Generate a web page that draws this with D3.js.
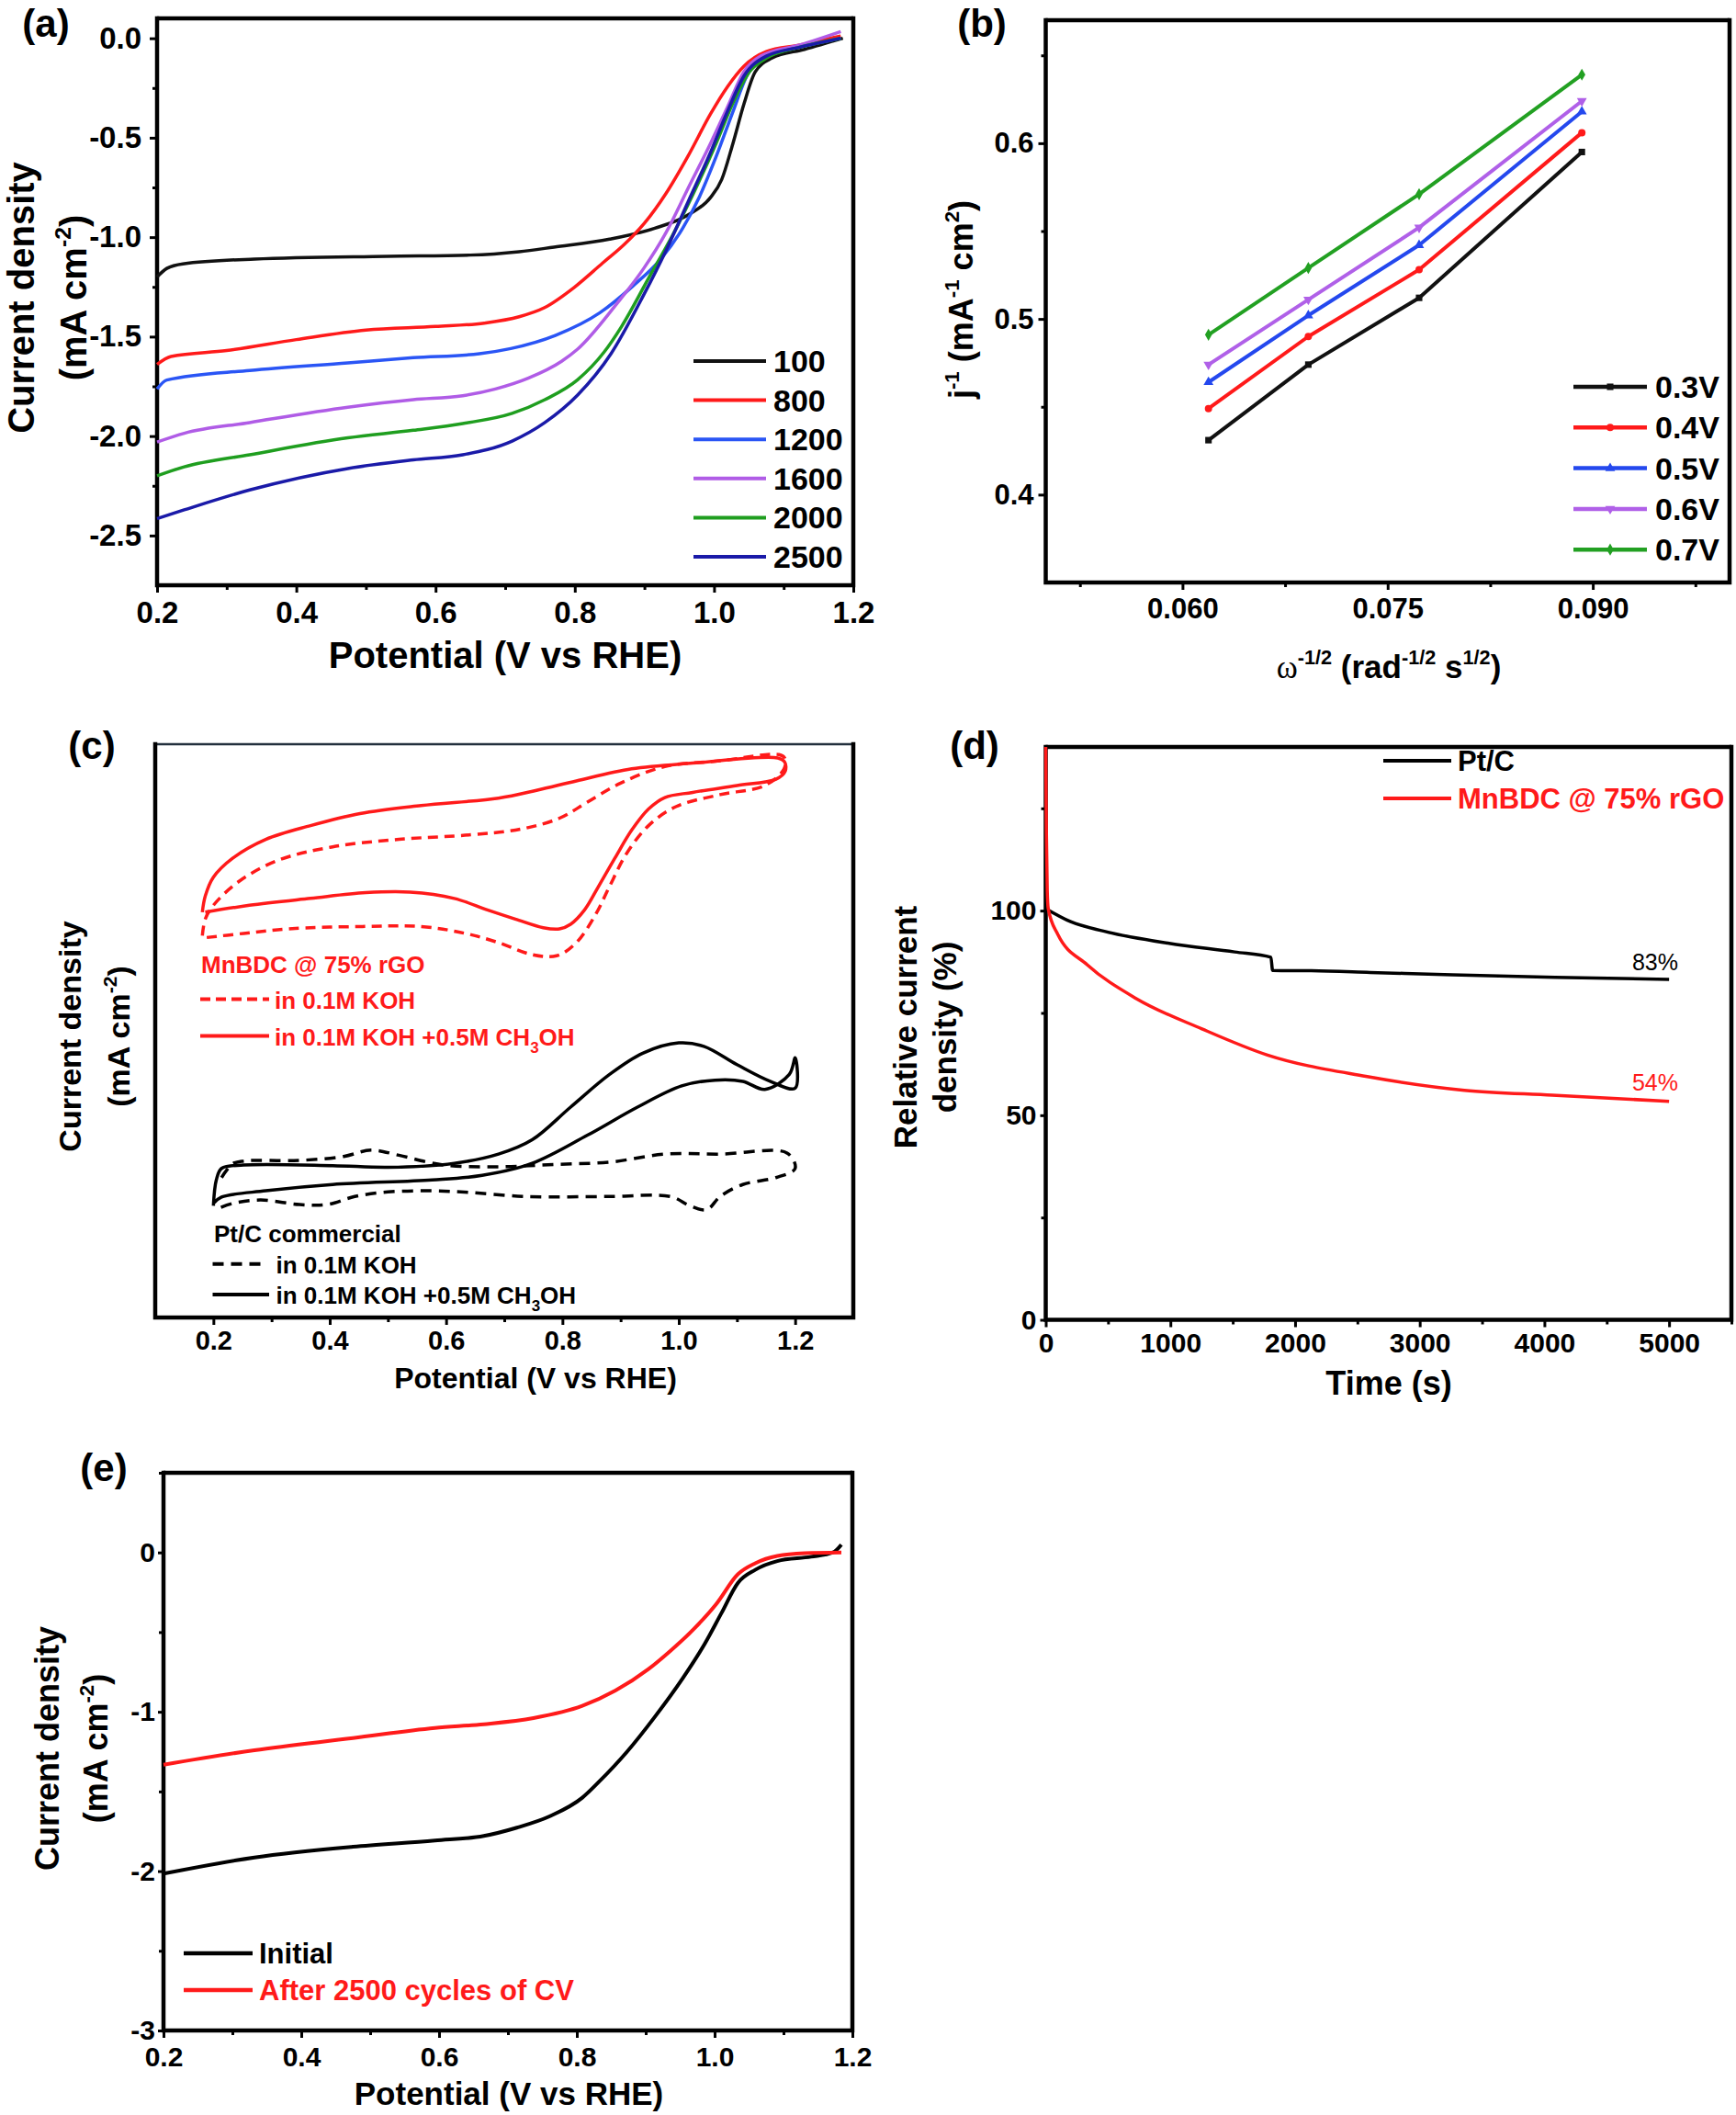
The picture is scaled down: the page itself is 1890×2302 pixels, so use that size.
<!DOCTYPE html>
<html>
<head>
<meta charset="utf-8">
<script src="https://cdn.jsdelivr.net/npm/d3@7"></script>
<style>
  body { margin: 0; background: #fff; }
  text { font-family: "Liberation Sans", Arial, sans-serif; font-weight: bold; fill: #000; }
</style>
</head>
<body>
<script>
// ---- (a) LSV at different rotation rates (rpm): [V vs RHE, mA cm-2]
const rpmLabels = ["100", "800", "1200", "1600", "2000", "2500"];
const lsv100 = [[0.2,-1.2],[0.214,-1.157],[0.237,-1.134],[0.34,-1.11],[0.53,-1.096],[0.65,-1.09],[0.72,-1.073],[0.77,-1.05],[0.85,-1.01],[0.915,-0.955],[0.963,-0.887],[0.995,-0.80],[1.011,-0.71],[1.027,-0.53],[1.043,-0.33],[1.059,-0.17],[1.083,-0.10],[1.13,-0.056],[1.185,0.0]];
const lsv800 = [[0.2,-1.64],[0.22,-1.60],[0.3,-1.57],[0.4,-1.515],[0.5,-1.467],[0.6,-1.449],[0.67,-1.432],[0.72,-1.40],[0.756,-1.355],[0.8,-1.25],[0.84,-1.13],[0.87,-1.04],[0.9,-0.93],[0.931,-0.78],[0.963,-0.59],[0.995,-0.38],[1.019,-0.245],[1.043,-0.14],[1.075,-0.067],[1.123,-0.034],[1.182,0.011]];
const lsv1200 = [[0.2,-1.763],[0.214,-1.718],[0.333,-1.67],[0.474,-1.632],[0.568,-1.606],[0.663,-1.586],[0.708,-1.56],[0.772,-1.494],[0.836,-1.38],[0.883,-1.247],[0.923,-1.112],[0.955,-0.955],[0.979,-0.797],[1.003,-0.595],[1.027,-0.37],[1.047,-0.19],[1.075,-0.09],[1.123,-0.045],[1.182,0.0]];
const lsv1600 = [[0.2,-2.03],[0.239,-1.986],[0.333,-1.932],[0.474,-1.855],[0.568,-1.817],[0.639,-1.797],[0.686,-1.763],[0.733,-1.709],[0.781,-1.624],[0.804,-1.563],[0.86,-1.336],[0.899,-1.157],[0.931,-0.977],[0.963,-0.752],[0.995,-0.528],[1.019,-0.348],[1.043,-0.168],[1.067,-0.09],[1.123,-0.034],[1.182,0.034]];
const lsv2000 = [[0.2,-2.20],[0.239,-2.155],[0.333,-2.094],[0.474,-2.009],[0.568,-1.971],[0.639,-1.937],[0.71,-1.886],[0.757,-1.817],[0.804,-1.717],[0.842,-1.578],[0.867,-1.45],[0.907,-1.20],[0.939,-1.0],[0.971,-0.775],[1.003,-0.528],[1.027,-0.326],[1.051,-0.168],[1.075,-0.10],[1.123,-0.045],[1.182,0.0]];
const lsv2500 = [[0.2,-2.415],[0.239,-2.371],[0.333,-2.271],[0.474,-2.163],[0.568,-2.12],[0.639,-2.094],[0.71,-2.025],[0.757,-1.932],[0.804,-1.794],[0.852,-1.586],[0.899,-1.29],[0.931,-1.067],[0.963,-0.82],[0.995,-0.573],[1.019,-0.37],[1.043,-0.19],[1.075,-0.09],[1.123,-0.045],[1.182,0.0]];
const rpmColors = ["#111111", "#ff1a1a", "#2a55f5", "#b05ce6", "#1f9e1f", "#1a1aa8"];

// ---- (b) Koutecky-Levich plots
const klLabels = ["0.3V", "0.4V", "0.5V", "0.6V", "0.7V"];
const invSqrtOmega = [0.0619, 0.0692, 0.0773, 0.0892];
const kl03 = [0.431, 0.474, 0.512, 0.595];
const kl04 = [0.449, 0.490, 0.528, 0.606];
const kl05 = [0.464, 0.502, 0.542, 0.618];
const kl06 = [0.474, 0.511, 0.552, 0.624];
const kl07 = [0.491, 0.529, 0.571, 0.639];
const klColors = ["#111111", "#ff1a1a", "#2448ee", "#b060e8", "#22a022"];

// ---- (c) methanol tolerance CVs (current in arbitrary units, 0 = bottom, 100 = top)
const mnbdcKOH = [[0.181,66.6],[0.186,69.5],[0.2,71.9],[0.243,76.0],[0.31,79.7],[0.405,82.1],[0.519,83.4],[0.643,84.2],[0.729,85.2],[0.795,87.1],[0.843,89.9],[0.9,93.2],[0.976,96.1],[1.071,97.1],[1.172,98.2],[1.182,97.6],[1.181,95.7],[1.148,92.8],[1.071,91.2],[0.995,89.1],[0.948,85.8],[0.91,80.9],[0.881,75.2],[0.857,70.3],[0.824,65.4],[0.79,63.1],[0.748,63.3],[0.69,65.4],[0.633,67.0],[0.557,68.2],[0.452,68.2],[0.329,67.8],[0.252,67.0],[0.181,66.2]];
const mnbdcMeOH = [[0.181,70.7],[0.186,73.5],[0.2,76.8],[0.233,80.1],[0.29,83.4],[0.367,85.8],[0.452,87.9],[0.557,89.3],[0.69,90.6],[0.757,92.0],[0.824,93.6],[0.919,95.7],[1.024,96.7],[1.17,97.6],[1.182,96.9],[1.183,95.3],[1.167,93.9],[1.1,92.8],[1.024,91.6],[0.976,90.7],[0.948,88.7],[0.919,85.0],[0.89,80.1],[0.862,75.2],[0.838,71.1],[0.814,68.6],[0.795,67.8],[0.767,68.0],[0.719,69.5],[0.671,71.1],[0.614,73.1],[0.538,74.2],[0.462,74.1],[0.367,73.1],[0.262,71.9],[0.186,70.7]];
const ptcKOH = [[0.214,24.4],[0.233,26.8],[0.252,27.3],[0.348,27.4],[0.424,28.1],[0.471,29.2],[0.519,28.3],[0.595,26.6],[0.69,26.3],[0.786,26.7],[0.881,27.1],[0.976,28.5],[1.071,28.5],[1.186,28.7],[1.2,26.0],[1.167,24.4],[1.11,23.2],[1.071,21.1],[1.048,18.8],[1.019,19.5],[0.986,21.1],[0.881,21.1],[0.738,21.1],[0.643,21.8],[0.576,22.1],[0.5,21.9],[0.443,21.1],[0.395,19.7],[0.348,19.7],[0.281,20.5],[0.233,19.9],[0.21,19.1]];
const ptcMeOH = [[0.2,19.5],[0.205,24.0],[0.214,26.0],[0.252,26.6],[0.405,26.5],[0.5,26.2],[0.614,26.9],[0.69,28.5],[0.748,31.0],[0.814,36.7],[0.881,42.4],[0.938,46.1],[1.0,47.9],[1.043,47.3],[1.1,44.1],[1.157,41.2],[1.2,40.0],[1.2,45.3],[1.19,42.4],[1.148,39.8],[1.11,41.2],[1.062,41.4],[1.005,40.4],[0.929,36.7],[0.843,31.8],[0.748,26.9],[0.662,24.8],[0.576,24.0],[0.405,23.2],[0.29,22.1],[0.214,21.0],[0.2,19.9]];

// ---- (d) chronoamperometry: [time s, relative current %]
const ptcStability = [[0,100.5],[200,97.3],[463,95.0],[990,92.0],[1516,89.9],[1806,88.6],[1820,85.4],[2130,85.3],[2602,84.9],[3260,84.3],[4086,83.7],[5000,83.2]];
const mnbdcStability = [[0,140],[5,120],[12,105],[20,100.5],[95,94.3],[332,86.8],[727,78.5],[1253,71.1],[1779,64.7],[2568,59.5],[3358,56.1],[4063,54.9],[5000,53.4]];
const retention = ["83%", "54%"];

// ---- (e) durability LSV
const initialLSV = [[0.2,-2.016],[0.332,-1.914],[0.475,-1.847],[0.594,-1.808],[0.665,-1.779],[0.713,-1.727],[0.761,-1.655],[0.808,-1.539],[0.832,-1.44],[0.873,-1.25],[0.913,-1.033],[0.954,-0.788],[0.986,-0.571],[1.01,-0.38],[1.034,-0.19],[1.059,-0.109],[1.091,-0.054],[1.14,-0.027],[1.172,0],[1.184,0.049]];
const after2500 = [[0.2,-1.332],[0.332,-1.241],[0.475,-1.165],[0.594,-1.101],[0.665,-1.078],[0.737,-1.04],[0.808,-0.963],[0.856,-0.867],[0.904,-0.732],[0.936,-0.617],[0.97,-0.48],[1.002,-0.326],[1.034,-0.136],[1.059,-0.068],[1.091,-0.022],[1.131,-0.005],[1.184,0]];

const RED = "#ff1a1a";

const svg = d3.select("body").append("svg")
    .attr("width", 1890)
    .attr("height", 2302)
    .style("background", "#fff");

const hy = f => d => d3.format(f)(d).replace("\u2212", "-");

// one framed panel with outward major/minor ticks
function panel(p) {
    const x = d3.scaleLinear().domain(p.xDomain).range([p.left, p.right]);
    const y = d3.scaleLinear().domain(p.yDomain).range([p.bottom, p.top]);
    const g = svg.append("g");

    const styleAxis = sel => {
        sel.select(".domain").remove();
        sel.selectAll(".tick line").attr("stroke", "#000").attr("stroke-width", 3);
        sel.selectAll(".tick text").style("font-size", p.tickFont + "px");
    };

    g.append("g").attr("transform", `translate(0,${p.bottom})`)
        .call(d3.axisBottom(x).tickValues(p.xMajor).tickFormat(p.xFmt).tickSize(8).tickPadding(p.xPad).tickSizeOuter(0))
        .call(styleAxis);
    g.append("g").attr("transform", `translate(0,${p.bottom})`)
        .call(d3.axisBottom(x).tickValues(p.xMinor).tickFormat("").tickSize(5).tickSizeOuter(0))
        .call(styleAxis);
    if (p.yMajor) {
        g.append("g").attr("transform", `translate(${p.left},0)`)
            .call(d3.axisLeft(y).tickValues(p.yMajor).tickFormat(p.yFmt).tickSize(p.yTick || 8).tickPadding(p.yPad).tickSizeOuter(0))
            .call(styleAxis);
        g.append("g").attr("transform", `translate(${p.left},0)`)
            .call(d3.axisLeft(y).tickValues(p.yMinor).tickFormat("").tickSize(5).tickSizeOuter(0))
            .call(styleAxis);
    }

    // frame
    const fw = 4.5;
    g.append("line").attr("x1", p.left).attr("x2", p.right).attr("y1", p.top).attr("y2", p.top)
        .attr("stroke", p.topColor || "#000").attr("stroke-width", p.topWidth || fw);
    g.append("path")
        .attr("d", `M${p.left},${p.top}V${p.bottom}H${p.right}V${p.top}`)
        .attr("fill", "none").attr("stroke", "#000").attr("stroke-width", fw)
        .attr("stroke-linecap", "square");

    return { g, x, y };
}

function drawLine(pn, data, color, width, curve, dash) {
    pn.g.append("path")
        .datum(data)
        .attr("fill", "none")
        .attr("stroke", color)
        .attr("stroke-width", width)
        .attr("stroke-linejoin", "round")
        .attr("stroke-dasharray", dash || null)
        .attr("d", d3.line().x(d => pn.x(d[0])).y(d => pn.y(d[1])).curve(curve));
}

function text(g, x, y, str, size, opts = {}) {
    return g.append("text")
        .attr("x", x).attr("y", y)
        .attr("text-anchor", opts.anchor || "start")
        .style("font-size", size + "px")
        .style("font-weight", opts.weight || "bold")
        .style("fill", opts.color || "#000")
        .text(str);
}

// title built from [text, shift] pieces (shift: 0 normal, -1 superscript)
function richText(g, transform, pieces, size, anchor) {
    const t = g.append("text").attr("transform", transform)
        .attr("text-anchor", anchor || "middle")
        .style("font-size", size + "px");
    let cur = 0;
    pieces.forEach(pc => {
        const [s, shift, extra] = pc;
        const target = shift === -1 ? -size * 0.42 : shift === 1 ? size * 0.25 : 0;
        const ts = t.append("tspan").attr("dy", target - cur).text(s);
        if (shift) ts.style("font-size", (size * 0.62) + "px");
        if (extra) ts.style("font-family", extra.family).style("font-weight", extra.weight);
        cur = target;
    });
    return t;
}

// ================= (a) =================
const pa = panel({
    left: 171, right: 929, top: 20, bottom: 637,
    xDomain: [0.2, 1.2], yDomain: [-2.75, 0.1],
    xMajor: [0.2, 0.4, 0.6, 0.8, 1.0, 1.2], xMinor: [0.3, 0.5, 0.7, 0.9, 1.1],
    yMajor: [0, -0.5, -1, -1.5, -2, -2.5], yMinor: [-0.25, -0.75, -1.25, -1.75, -2.25],
    xFmt: hy(".1f"), yFmt: hy(".1f"), tickFont: 33, xPad: 10, yPad: 9
});
[lsv100, lsv800, lsv1200, lsv1600, lsv2000, lsv2500].forEach((s, i) =>
    drawLine(pa, s, rpmColors[i], 3.5, d3.curveMonotoneX));
rpmLabels.forEach((lab, i) => {
    const yy = 393 + i * 42.6;
    pa.g.append("line").attr("x1", 755).attr("x2", 834).attr("y1", yy).attr("y2", yy)
        .attr("stroke", rpmColors[i]).attr("stroke-width", 4);
    text(pa.g, 842, yy + 12, lab, 34);
});
text(pa.g, 50, 40, "(a)", 42, { anchor: "middle" });
text(pa.g, 550, 727, "Potential (V vs RHE)", 40, { anchor: "middle" });
richText(pa.g, "translate(37,324) rotate(-90)", [["Current density", 0]], 40);
richText(pa.g, "translate(94,324) rotate(-90)", [["(mA cm", 0], ["-2", -1], [")", 0]], 40);

// ================= (b) =================
const pb = panel({
    left: 1138.5, right: 1883, top: 22, bottom: 634,
    xDomain: [0.05, 0.10], yDomain: [0.35, 0.67],
    xMajor: [0.060, 0.075, 0.090], xMinor: [0.0525, 0.0675, 0.0825, 0.0975],
    yMajor: [0.4, 0.5, 0.6], yMinor: [0.45, 0.55, 0.65],
    xFmt: hy(".3f"), yFmt: hy(".1f"), tickFont: 31, xPad: 9, yPad: 5
});
const klSymbols = [d3.symbolSquare, d3.symbolCircle, d3.symbolTriangle, d3.symbolTriangle, d3.symbolDiamond];
const klRot = [0, 0, 0, 180, 0];
[kl03, kl04, kl05, kl06, kl07].forEach((vals, i) => {
    const pts = vals.map((v, k) => [invSqrtOmega[k], v]);
    drawLine(pb, pts, klColors[i], 4, d3.curveLinear);
    pb.g.selectAll(null).data(pts).join("path")
        .attr("transform", d => `translate(${pb.x(d[0])},${pb.y(d[1])}) rotate(${klRot[i]})`)
        .attr("d", d3.symbol(klSymbols[i], 50))
        .attr("fill", klColors[i]);
});
klLabels.forEach((lab, i) => {
    const yy = 421 + i * 44.3;
    pb.g.append("line").attr("x1", 1713).attr("x2", 1793).attr("y1", yy).attr("y2", yy)
        .attr("stroke", klColors[i]).attr("stroke-width", 4.5);
    pb.g.append("path").attr("transform", `translate(1753,${yy}) rotate(${klRot[i]})`)
        .attr("d", d3.symbol(klSymbols[i], 50)).attr("fill", klColors[i]);
    text(pb.g, 1802, yy + 12, lab, 34);
});
text(pb.g, 1069, 40, "(b)", 42, { anchor: "middle" });
richText(pb.g, "translate(1512,738)", [
    ["\u03c9", 0, { family: "'Liberation Serif', 'Times New Roman', serif", weight: "normal" }],
    ["-1/2", -1], [" (rad", 0], ["-1/2", -1], [" s", 0], ["1/2", -1], [")", 0]
], 35);
richText(pb.g, "translate(1059,326) rotate(-90)", [
    ["j", 0], ["-1", -1], [" (mA", 0], ["-1", -1], [" cm", 0], ["2", -1], [")", 0]
], 36);

// ================= (c) =================
const pc = panel({
    left: 169, right: 929, top: 810, bottom: 1434,
    xDomain: [0.1, 1.3], yDomain: [0, 100],
    xMajor: [0.2, 0.4, 0.6, 0.8, 1.0, 1.2], xMinor: [0.3, 0.5, 0.7, 0.9, 1.1],
    yMajor: null,
    xFmt: hy(".1f"), tickFont: 29, xPad: 6,
    topWidth: 2.5, topColor: "#23303d"
});
drawLine(pc, mnbdcKOH, RED, 3.5, d3.curveCatmullRom, "11,7");
drawLine(pc, mnbdcMeOH, RED, 3.5, d3.curveCatmullRom);
drawLine(pc, ptcKOH, "#000", 3.5, d3.curveCatmullRom, "12,8");
drawLine(pc, ptcMeOH, "#000", 3.5, d3.curveCatmullRom);

function cLegend(x1, x2, yy, color, dash, label, tx) {
    pc.g.append("line").attr("x1", x1).attr("x2", x2).attr("y1", yy).attr("y2", yy)
        .attr("stroke", color).attr("stroke-width", 4).attr("stroke-dasharray", dash || null);
    const t = text(pc.g, tx, yy + 10, "", 26, { color });
    if (label === "meoh") {
        t.append("tspan").text("in 0.1M KOH +0.5M CH");
        t.append("tspan").attr("dy", 8).style("font-size", "17px").text("3");
        t.append("tspan").attr("dy", -8).text("OH");
    } else {
        t.text(label);
    }
}
text(pc.g, 219, 1059, "MnBDC @ 75% rGO", 26, { color: RED });
cLegend(218, 293, 1087.6, RED, "11,6", "in 0.1M KOH", 299);
cLegend(218, 293, 1127.5, RED, null, "meoh", 299);
text(pc.g, 233, 1352, "Pt/C commercial", 26);
cLegend(231.5, 284, 1375.7, "#000", "12,8", "in 0.1M KOH", 300.5);
cLegend(231.5, 293, 1409, "#000", null, "meoh", 300.5);
text(pc.g, 100, 826, "(c)", 42, { anchor: "middle" });
text(pc.g, 583, 1511, "Potential (V vs RHE)", 32, { anchor: "middle" });
richText(pc.g, "translate(88,1128) rotate(-90)", [["Current density", 0]], 34);
richText(pc.g, "translate(141,1128) rotate(-90)", [["(mA cm", 0], ["-2", -1], [")", 0]], 34);

// ================= (d) =================
const pd = panel({
    left: 1138.5, right: 1885, top: 813, bottom: 1436.5,
    xDomain: [0, 5500], yDomain: [0, 140],
    xMajor: [0, 1000, 2000, 3000, 4000, 5000], xMinor: [500, 1500, 2500, 3500, 4500, 5500],
    yMajor: [0, 50, 100], yMinor: [25, 75, 125],
    xFmt: d3.format("d"), yFmt: d3.format("d"), tickFont: 30, xPad: 6, yPad: 4, yTick: 6
});
drawLine(pd, ptcStability, "#000", 3.5, d3.curveMonotoneX);
drawLine(pd, mnbdcStability, RED, 3.5, d3.curveMonotoneX);
text(pd.g, 1827, 1056, retention[0], 25, { anchor: "end", weight: "normal" });
text(pd.g, 1827, 1187, retention[1], 25, { anchor: "end", weight: "normal", color: RED });
[["Pt/C", "#000", 828], ["MnBDC @ 75% rGO", RED, 869]].forEach(([lab, c, yy]) => {
    pd.g.append("line").attr("x1", 1506).attr("x2", 1580).attr("y1", yy).attr("y2", yy)
        .attr("stroke", c).attr("stroke-width", 4);
    text(pd.g, 1587, yy + 11, lab, 31, { color: c });
});
text(pd.g, 1061, 826, "(d)", 42, { anchor: "middle" });
text(pd.g, 1512, 1518, "Time (s)", 36, { anchor: "middle" });
richText(pd.g, "translate(998,1118) rotate(-90)", [["Relative current", 0]], 35);
richText(pd.g, "translate(1041,1118) rotate(-90)", [["density (%)", 0]], 35);

// ================= (e) =================
const pe = panel({
    left: 178, right: 928, top: 1603, bottom: 2210,
    xDomain: [0.2, 1.2], yDomain: [-3, 0.5],
    xMajor: [0.2, 0.4, 0.6, 0.8, 1.0, 1.2], xMinor: [0.3, 0.5, 0.7, 0.9, 1.1],
    yMajor: [0, -1, -2, -3], yMinor: [-0.5, -1.5, -2.5, 0.5],
    xFmt: hy(".1f"), yFmt: d => String(d), tickFont: 30, xPad: 10, yPad: 3, yTick: 6
});
drawLine(pe, initialLSV, "#000", 4, d3.curveMonotoneX);
drawLine(pe, after2500, RED, 4, d3.curveMonotoneX);
[["Initial", "#000", 2126], ["After 2500 cycles of CV", RED, 2166]].forEach(([lab, c, yy]) => {
    pe.g.append("line").attr("x1", 200).attr("x2", 275).attr("y1", yy).attr("y2", yy)
        .attr("stroke", c).attr("stroke-width", 4.5);
    text(pe.g, 282, yy + 11, lab, 31, { color: c });
});
text(pe.g, 113, 1612, "(e)", 42, { anchor: "middle" });
text(pe.g, 554, 2291, "Potential (V vs RHE)", 35, { anchor: "middle" });
richText(pe.g, "translate(64,1903) rotate(-90)", [["Current density", 0]], 36);
richText(pe.g, "translate(117,1903) rotate(-90)", [["(mA cm", 0], ["-2", -1], [")", 0]], 36);
</script>
</body>
</html>
